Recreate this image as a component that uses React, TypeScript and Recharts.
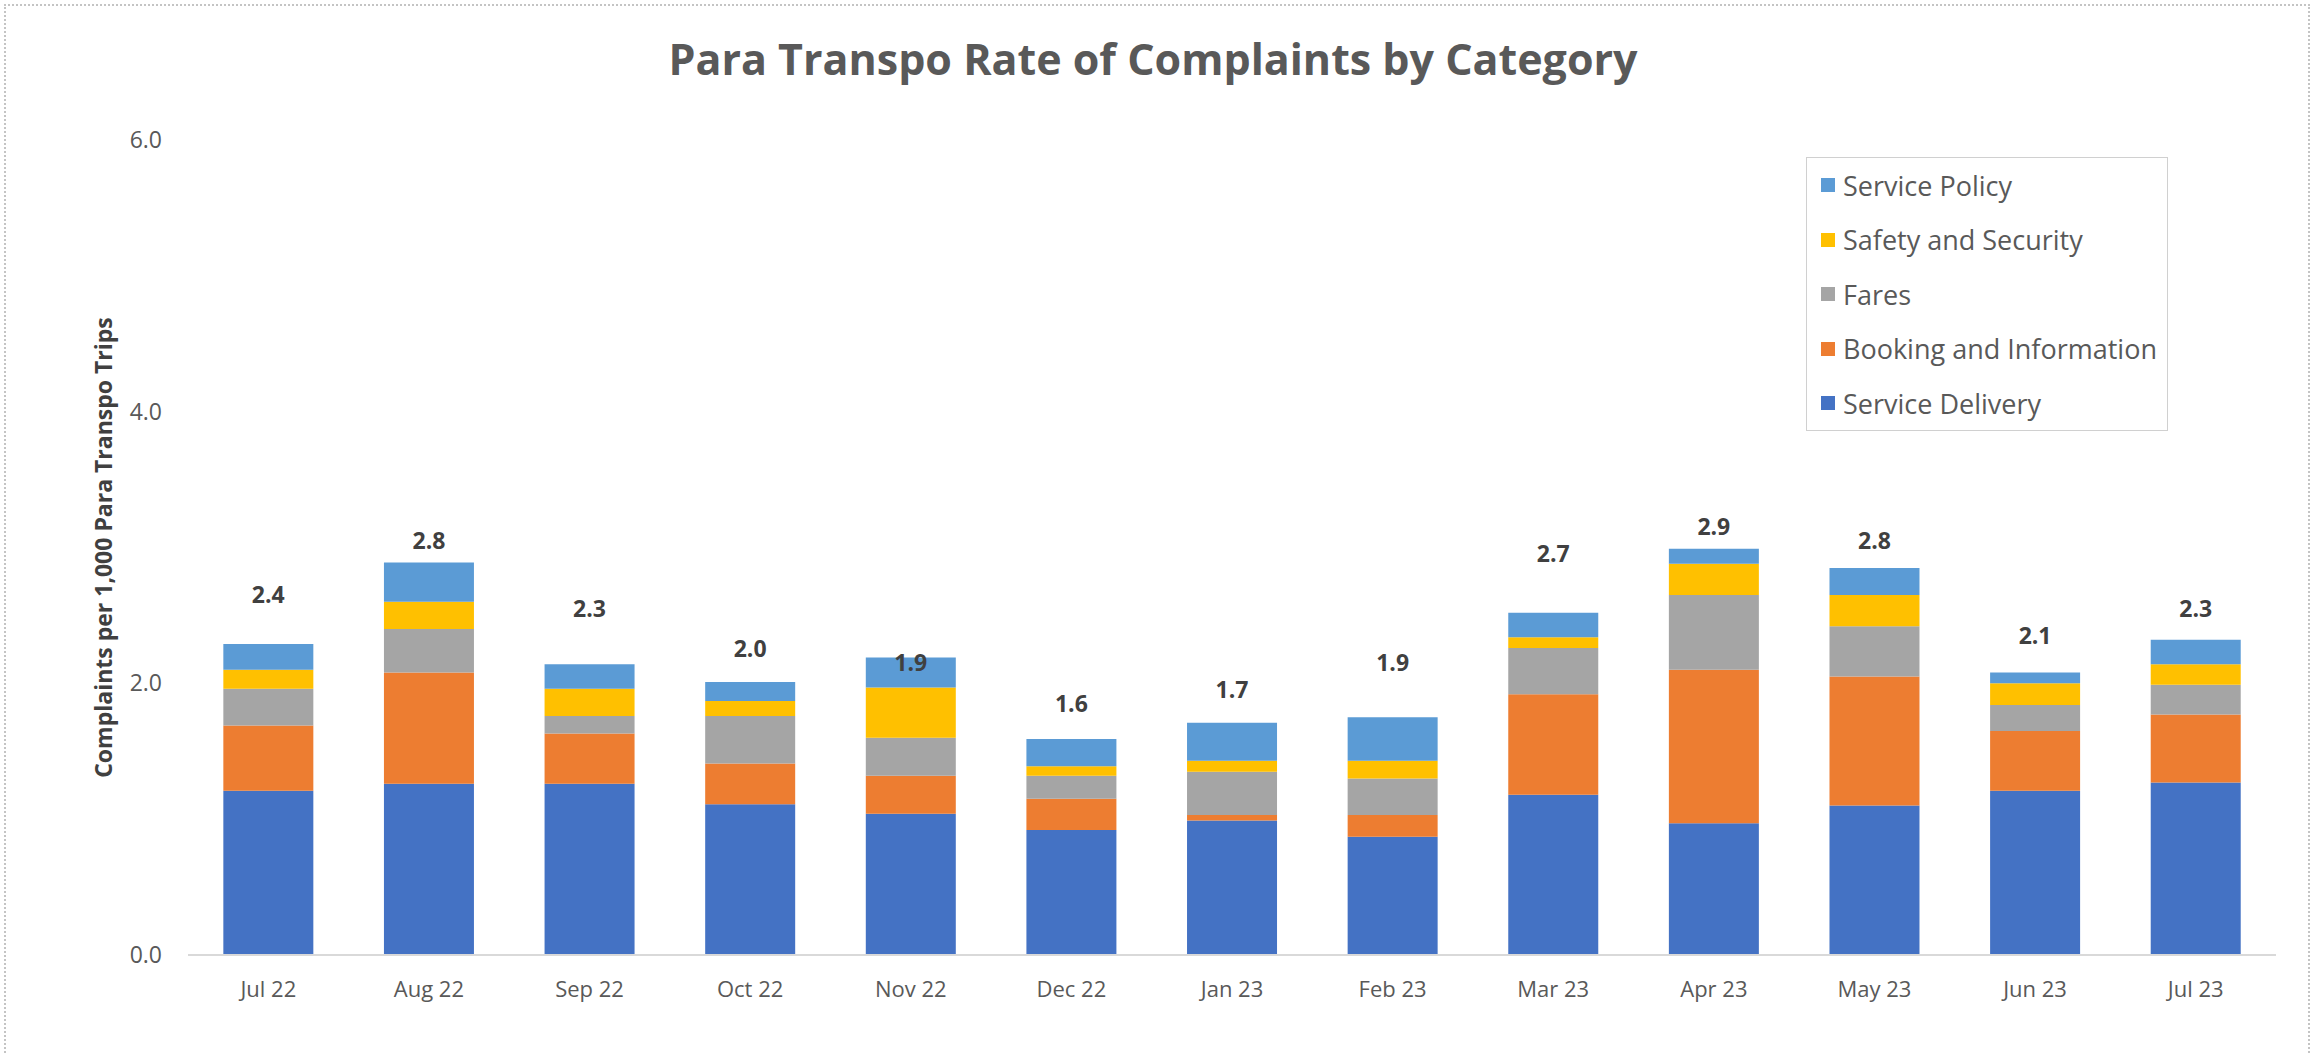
import * as React from 'react';
import { ComposedChart, Bar, Line, XAxis, YAxis, Legend, LabelList, Label } from 'recharts';

const months = ['Jul 22', 'Aug 22', 'Sep 22', 'Oct 22', 'Nov 22', 'Dec 22', 'Jan 23', 'Feb 23', 'Mar 23', 'Apr 23', 'May 23', 'Jun 23', 'Jul 23'];
const serviceDelivery = [1.21, 1.26, 1.26, 1.11, 1.04, 0.92, 0.99, 0.87, 1.18, 0.97, 1.10, 1.21, 1.27];
const booking = [0.48, 0.82, 0.37, 0.30, 0.28, 0.23, 0.04, 0.16, 0.74, 1.13, 0.95, 0.44, 0.50];
const fares = [0.27, 0.32, 0.13, 0.35, 0.28, 0.17, 0.32, 0.27, 0.34, 0.55, 0.37, 0.19, 0.22];
const safety = [0.14, 0.20, 0.20, 0.11, 0.37, 0.07, 0.08, 0.13, 0.08, 0.23, 0.23, 0.16, 0.15];
const policy = [0.19, 0.29, 0.18, 0.14, 0.22, 0.20, 0.28, 0.32, 0.18, 0.11, 0.20, 0.08, 0.18];
const totals = [2.4, 2.8, 2.3, 2.0, 1.9, 1.6, 1.7, 1.9, 2.7, 2.9, 2.8, 2.1, 2.3];
const yTicks = [0, 2, 4, 6];

const series = [
  { key: 'sd', name: 'Service Delivery', color: '#4472C4' },
  { key: 'bi', name: 'Booking and Information', color: '#ED7D31' },
  { key: 'fa', name: 'Fares', color: '#A5A5A5' },
  { key: 'ss', name: 'Safety and Security', color: '#FFC000' },
  { key: 'sp', name: 'Service Policy', color: '#5B9BD5' },
];

const data = months.map((m, i) => ({
  month: m,
  sd: serviceDelivery[i],
  bi: booking[i],
  fa: fares[i],
  ss: safety[i],
  sp: policy[i],
  total: totals[i],
}));

const font = '"Open Sans", sans-serif';

// legend drawn as a boxed list, top series first like Excel
const LegendBox = () => (
  <div style={{ border: '1.5px solid #d0d0d0', padding: '0 0 0 14px', width: 362, height: 274, boxSizing: 'border-box', fontFamily: font }}>
    {[...series].reverse().map(s => (
      <div key={s.key} style={{ display: 'flex', alignItems: 'center', height: 54.5, fontSize: 27, color: '#595959', whiteSpace: 'nowrap' }}>
        <span style={{ width: 14, height: 14, background: s.color, marginRight: 8, display: 'inline-block', flex: 'none' }} />
        {s.name}
      </div>
    ))}
  </div>
);

const AxisTitle = ({ viewBox }: any) => {
  const x = viewBox.x + 106;
  const y = viewBox.y + viewBox.height / 2;
  return (
    <text x={x} y={y} transform={`rotate(-90 ${x} ${y})`} textAnchor="middle" dominantBaseline="middle"
      fontFamily={font} fontWeight="bold" fontSize={23} fill="#404040">
      Complaints per 1,000 Para Transpo Trips
    </text>
  );
};

export default function App() {
  return (
    <div style={{ position: 'absolute', left: 0, top: 0, width: 2318, height: 1055, background: '#fff', overflow: 'hidden' }}>
      <div style={{ position: 'absolute', left: 4, top: 4, width: 2306, height: 1060, border: '2px dotted #c4c4c4', boxSizing: 'border-box' }} />
      <div style={{ position: 'absolute', left: 0, top: 29, width: 2306, textAlign: 'center', fontFamily: font, fontWeight: 'bold', fontSize: 43, color: '#595959' }}>
        Para Transpo Rate of Complaints by Category
      </div>
      <ComposedChart width={2318} height={1055} data={data} margin={{ top: 140, right: 42, bottom: 40, left: 0 }} barCategoryGap="22%">
        <XAxis dataKey="month" axisLine={{ stroke: '#d9d9d9', strokeWidth: 2 }} tickLine={false} tickMargin={20} height={60}
          tick={{ fontFamily: font, fontSize: 22, fill: '#595959' }} />
        <YAxis domain={[0, 6]} ticks={yTicks} width={188} axisLine={false} tickLine={false} tickMargin={20}
          tickFormatter={(v: number) => v.toFixed(1)} tick={{ fontFamily: font, fontSize: 23, fill: '#595959' }}>
          <Label content={AxisTitle} />
        </YAxis>
        {series.map(s => (
          <Bar key={s.key} dataKey={s.key} name={s.name} stackId="a" fill={s.color} isAnimationActive={false} />
        ))}
        <Line dataKey="total" stroke="none" dot={false} activeDot={false} isAnimationActive={false} legendType="none">
          <LabelList dataKey="total" position="top" offset={26} formatter={(v: any) => Number(v).toFixed(1)}
            style={{ fontFamily: font, fontWeight: 'bold', fontSize: 23, fill: '#404040' }} />
        </Line>
        <Legend layout="vertical" align="center" verticalAlign="middle" content={LegendBox}
          wrapperStyle={{ left: 1806, top: 157, width: 362 }} />
      </ComposedChart>
    </div>
  );
}
